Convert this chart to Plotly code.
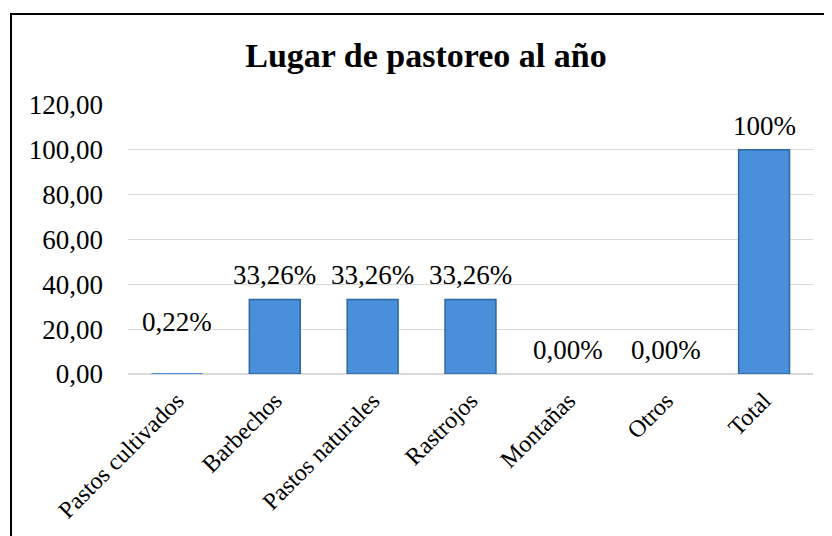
import plotly.graph_objects as go

categories = ["Pastos cultivados", "Barbechos", "Pastos naturales", "Rastrojos",
              "Montañas", "Otros", "Total"]
values = [0.22, 33.26, 33.26, 33.26, 0.00, 0.00, 100.0]
value_labels = ["0,22%", "33,26%", "33,26%", "33,26%", "0,00%", "0,00%", "100%"]
label_shift = [52, 24, 24, 24, 24, 24, 24]
outline_width = [0, 1.5, 1.5, 1.5, 0, 0, 1.5]
y_ticks = [0, 20, 40, 60, 80, 100, 120]

SERIF = "Liberation Serif"

# plot-area geometry in figure pixels
L, R, T, B = 120, 27, 97, 170
PW, PH = 832 - L - R, 536 - T - B

fig = go.Figure()
fig.add_trace(go.Bar(
    x=categories, y=values,
    marker=dict(color="#4A8FD9", line=dict(color="#2D679F", width=outline_width)),
    width=0.52,
    hoverinfo="skip",
))

for c, v, t, s in zip(categories, values, value_labels, label_shift):
    fig.add_annotation(x=c, y=v, text=t, showarrow=False, yshift=s,
                       yanchor="middle",
                       font=dict(family=SERIF, size=27, color="black"))

# chart border
fig.add_shape(type="rect", xref="paper", yref="paper",
              x0=(3 - L) / PW, x1=(850 - L) / PW,
              y0=(536 - 560 - B) / PH, y1=(536 - 6 - B) / PH,
              line=dict(color="black", width=2), fillcolor="rgba(0,0,0,0)",
              layer="above")

fig.update_layout(
    width=832, height=536,
    margin=dict(l=L, r=R, t=T, b=B),
    paper_bgcolor="white", plot_bgcolor="white",
    separators=",.",
    showlegend=False,
    title=dict(text="<b>Lugar de pastoreo al año</b>",
               x=(418 - L) / PW, xref="paper", xanchor="center",
               y=1 - 47 / 536, yref="container", yanchor="middle",
               font=dict(family=SERIF, size=34, color="black")),
    font=dict(family=SERIF, color="black"),
)
fig.update_yaxes(range=[0, 120], tickvals=y_ticks, tickformat=".2f",
                 showgrid=True, gridcolor="#D9D9D9", gridwidth=1,
                 zeroline=True, zerolinecolor="#D9D9D9", zerolinewidth=1.5,
                 ticks="", ticklabelstandoff=24,
                 tickfont=dict(family=SERIF, size=27, color="black"))
fig.update_xaxes(tickangle=-45, showline=False, ticks="outside", ticklen=2,
                 tickcolor="rgba(0,0,0,0)",
                 tickfont=dict(family=SERIF, size=24, color="black"))

fig.write_html("out.html")
